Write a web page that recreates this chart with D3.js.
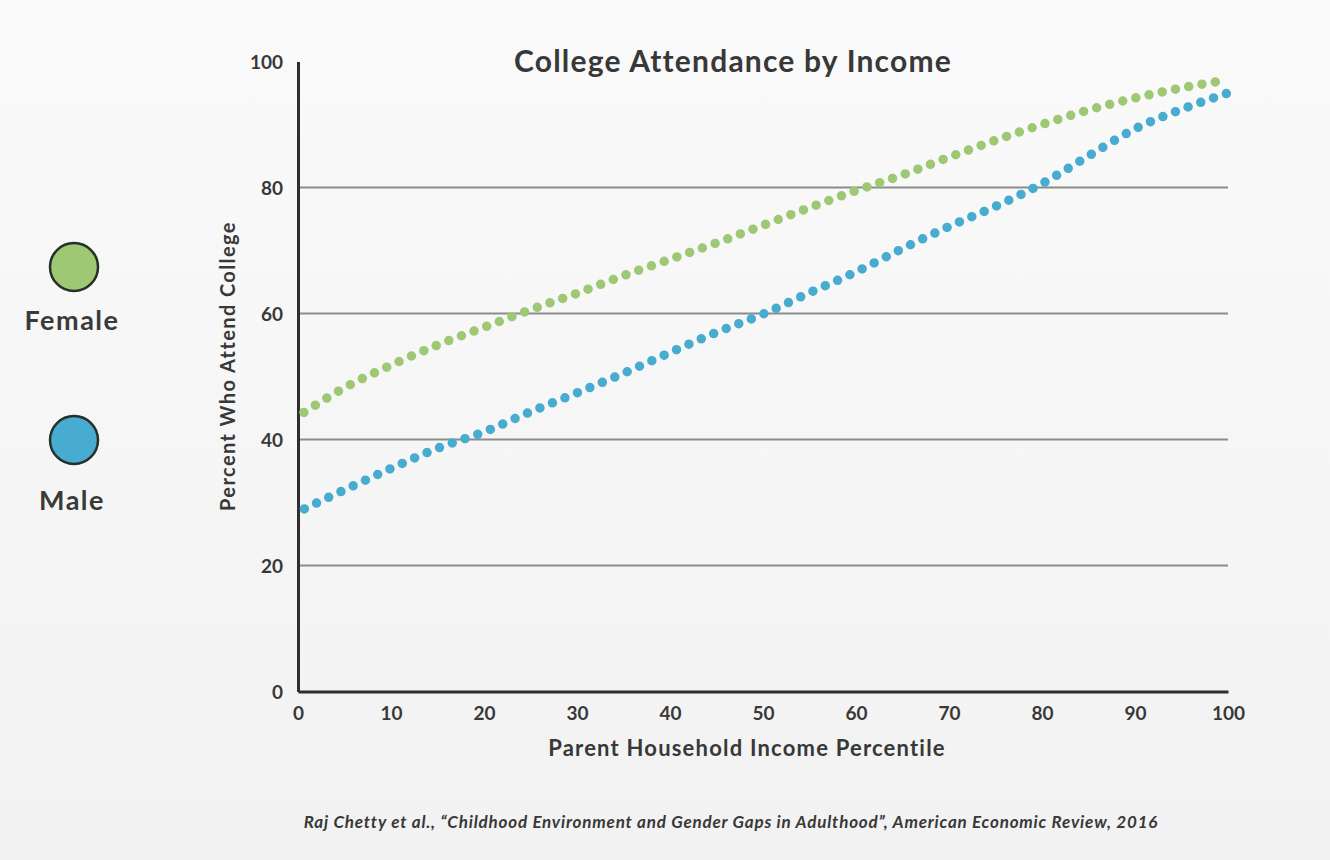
<!DOCTYPE html>
<html>
<head>
<meta charset="utf-8">
<script src="https://cdn.jsdelivr.net/npm/d3@7"></script>
<style>
  html, body { margin: 0; padding: 0; background: #f6f6f6; }
  svg { display: block; font-family: Lato, "Open Sans", sans-serif; }
</style>
</head>
<body>
<svg id="chart" width="1330" height="860"></svg>
<script>
// ---- data ----
const percentiles = [0, 5, 10, 15, 20, 25, 30, 35, 40, 45, 50, 55, 60, 65, 70, 75, 80, 85, 90, 95, 100];
const femaleValues = [43.7, 48.2, 51.8, 55.0, 57.8, 60.6, 63.2, 66.0, 68.6, 71.2, 74.0, 76.8, 79.5, 82.0, 84.8, 87.5, 90.0, 92.3, 94.2, 95.8, 97.1];
const maleValues   = [28.5, 32.0, 35.4, 38.6, 41.2, 44.4, 47.4, 50.5, 53.8, 57.0, 59.9, 63.3, 66.6, 70.3, 73.8, 77.0, 80.6, 85.0, 89.3, 92.4, 95.0];
const seriesNames = ["Female", "Male"];
const seriesColors = ["#9fc874", "#48abd0"];
const yTicks = [0, 20, 40, 60, 80, 100];
const xTicks = [0, 10, 20, 30, 40, 50, 60, 70, 80, 90, 100];
const gridValues = [20, 40, 60, 80];
const titleText = "College Attendance by Income";
const xTitle = "Parent Household Income Percentile";
const yTitle = "Percent Who Attend College";
const sourceText = "Raj Chetty et al., \u201CChildhood Environment and Gender Gaps in Adulthood\u201D, American Economic Review, 2016";

const svg = d3.select("#chart");
const textColor = "#383838";

// background gradient
const defs = svg.append("defs");
const grad = defs.append("linearGradient").attr("id", "bg").attr("x1", 0).attr("y1", 0).attr("x2", 0).attr("y2", 1);
grad.append("stop").attr("offset", "0%").attr("stop-color", "#fafafa");
grad.append("stop").attr("offset", "100%").attr("stop-color", "#f2f2f2");
svg.append("rect").attr("width", 1330).attr("height", 860).attr("fill", "url(#bg)");

const x = d3.scaleLinear().domain([0, 100]).range([298, 1228]);
const y = d3.scaleLinear().domain([0, 100]).range([691.5, 61.5]);

// gridlines
svg.append("g").selectAll("line").data(gridValues).join("line")
  .attr("x1", x(0)).attr("x2", x(100))
  .attr("y1", d => y(d)).attr("y2", d => y(d))
  .attr("stroke", "#8c8c8c").attr("stroke-width", 2.2);

// y axis
const yAxis = svg.append("g").attr("transform", `translate(${x(0)},0)`)
  .call(d3.axisLeft(y).tickValues(yTicks).tickSize(0).tickSizeOuter(0).tickPadding(15));
yAxis.select(".domain").attr("stroke", "#2e2e2e").attr("stroke-width", 3);
yAxis.selectAll("text").attr("font-size", 19).attr("font-weight", 700).attr("fill", textColor)
  .attr("font-family", "Lato, sans-serif").attr("dy", "0.36em");

// x axis
const xAxis = svg.append("g").attr("transform", `translate(0,${y(0)})`)
  .call(d3.axisBottom(x).tickValues(xTicks).tickSize(0).tickSizeOuter(0).tickPadding(15));
xAxis.select(".domain").attr("stroke", "#2e2e2e").attr("stroke-width", 3);
xAxis.selectAll("text").attr("font-size", 19).attr("font-weight", 700).attr("fill", textColor)
  .attr("font-family", "Lato, sans-serif");

// dotted series
const line = d3.line().x(d => x(d[0])).y(d => y(d[1])).curve(d3.curveMonotoneX);
const seriesData = [femaleValues, maleValues].map(vals => percentiles.map((p, i) => [p, vals[i]]));
svg.append("g").selectAll("path").data(seriesData).join("path")
  .attr("d", line)
  .attr("fill", "none")
  .attr("stroke", (d, i) => seriesColors[i])
  .attr("stroke-width", 9.5)
  .attr("stroke-linecap", "round")
  .attr("stroke-dasharray", "0,13.5")
  .attr("stroke-dashoffset", 6.5);

// title
svg.append("text").attr("x", 733).attr("y", 72).attr("text-anchor", "middle")
  .attr("font-size", 30).attr("font-weight", 700).attr("letter-spacing", 1.2)
  .attr("fill", textColor).text(titleText);

// axis titles
svg.append("text").attr("x", 747).attr("y", 756).attr("text-anchor", "middle")
  .attr("font-size", 22).attr("font-weight", 700).attr("letter-spacing", 1.2)
  .attr("fill", textColor).text(xTitle);
svg.append("text").attr("transform", "translate(235,366) rotate(-90)").attr("text-anchor", "middle")
  .attr("font-size", 20).attr("font-weight", 700).attr("letter-spacing", 1.4)
  .attr("fill", textColor).text(yTitle);

// legend
const legendY = [267, 440];
const legendLabelY = [330, 510];
const legend = svg.append("g").selectAll("g").data(seriesNames).join("g");
legend.append("circle").attr("cx", 74).attr("cy", (d, i) => legendY[i]).attr("r", 24)
  .attr("fill", (d, i) => seriesColors[i])
  .attr("stroke", "#243028").attr("stroke-width", 2.5);
legend.append("text").attr("x", 72).attr("y", (d, i) => legendLabelY[i]).attr("text-anchor", "middle")
  .attr("font-size", 27).attr("font-weight", 700).attr("letter-spacing", 1.5)
  .attr("fill", "#3a3a3a").text(d => d);

// source
svg.append("text").attr("x", 731).attr("y", 828).attr("text-anchor", "middle")
  .attr("font-size", 17).attr("font-weight", 700).attr("font-style", "italic").attr("letter-spacing", 0.8)
  .attr("fill", textColor).text(sourceText);
</script>
</body>
</html>
